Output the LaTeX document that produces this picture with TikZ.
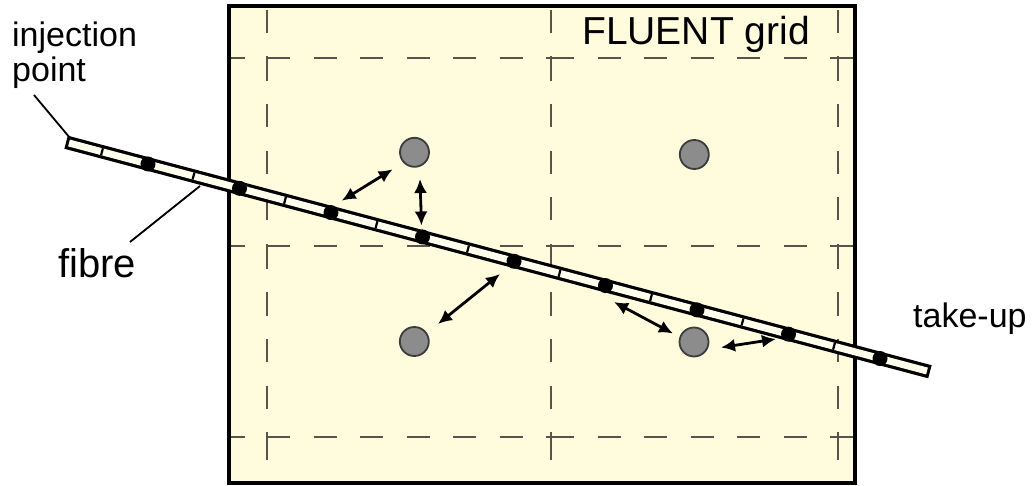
\documentclass[tikz,border=0pt]{standalone}
\usepackage{fontspec}
\setmainfont{Liberation Sans}
\usetikzlibrary{arrows.meta,calc}
\definecolor{boxfill}{RGB}{255,252,222}
\definecolor{fibrefill}{RGB}{255,255,238}
\definecolor{gridgray}{RGB}{85,85,75}
\definecolor{partfill}{RGB}{140,140,140}
\definecolor{partdraw}{RGB}{60,60,60}
\begin{document}
\begin{tikzpicture}[x=1pt,y=-1pt,
  gridline/.style={draw=gridgray,line width=2.2pt,dash pattern=on 23pt off 23.5pt},
  boxline/.style={draw=black,line width=3.2pt},
  fibreout/.style={draw=black,line width=13.5pt},
  fibrein/.style={draw=fibrefill,line width=7pt},
  tick/.style={draw=black,line width=2.2pt},
  fdot/.style={circle,fill=black,inner sep=0pt,minimum size=15pt},
  particle/.style={circle,fill=partfill,draw=partdraw,line width=1.8pt,inner sep=0pt,minimum size=29pt},
  arr/.style={draw=black,line width=2.8pt,{Latex[length=14pt,width=13pt]}-{Latex[length=14pt,width=13pt]}},
  leader/.style={draw=black,line width=1.8pt},
  lbl/.style={anchor=base west,inner sep=0pt,text=black}
]
\useasboundingbox (0,0) rectangle (1033,486);
% box
\fill[boxfill] (229,6) rectangle (855,483);
\begin{scope}
\clip (229,6) rectangle (855,483);
\foreach \x in {267,551,838}{
  \draw[gridline] (\x,10) -- (\x,58);
  \draw[gridline] (\x,58) -- (\x,246);
  \draw[gridline] (\x,246) -- (\x,437);
  \draw[gridline] (\x,437) -- (\x,490);
}
\foreach \y in {58,246,437}{
  \draw[gridline] (222,\y) -- (267,\y);
  \draw[gridline] (267,\y) -- (551,\y);
  \draw[gridline] (551,\y) -- (838,\y);
  \draw[gridline] (838,\y) -- (860,\y);
}
\end{scope}
\draw[boxline] (229,6) rectangle (855,483);
% particles
\node[particle] (c1) at (414.5,152.3) {};
\node[particle] (c2) at (694.3,154.5) {};
\node[particle] (c3) at (414.3,341.5) {};
\node[particle] (c4) at (694,342) {};
% fibre
\coordinate (fa) at (69,143);
\coordinate (fb) at (927,371);
\draw[fibreout] ($(fa)!-3pt!(fb)$) -- ($(fb)!-3pt!(fa)$);
\draw[fibrein] (fa) -- (fb);
\foreach \px in {102,193.5,285,376.5,468,559.5,651,742.5,834}{
  \pgfmathsetmacro\tt{(\px-69)/858}
  \coordinate (tk) at ($(fa)!\tt!(fb)$);
  \draw[tick] ($(tk)!3.6pt!90:(fb)$) -- ($(tk)!3.6pt!-90:(fb)$);
}
\foreach \px [count=\i] in {148,239.5,331,422.5,514,605.5,697,788.5,880}{
  \pgfmathsetmacro\tt{(\px-69)/858}
  \node[fdot] (d\i) at ($(fa)!\tt!(fb)$) {};
}
% arrows
\coordinate (a1s) at (341.7,200.7); \coordinate (a1e) at (392.7,169.3);
\coordinate (a2s) at (420,179);     \coordinate (a2e) at (421.5,225.5);
\coordinate (a3s) at (438,324);     \coordinate (a3e) at (500,274);
\coordinate (a4s) at (614,302);     \coordinate (a4e) at (673,333.5);
\coordinate (a5s) at (721,347.5);   \coordinate (a5e) at (776,339);
\draw[arr] (a1s) -- (a1e);
\draw[arr] (a2s) -- (a2e);
\draw[arr] (a3s) -- (a3e);
\draw[arr] (a4s) -- (a4e);
\draw[arr] (a5s) -- (a5e);
% labels
\node[lbl,font=\fontsize{34}{40}\selectfont] (inj1) at (12,47) {injection};
\node[lbl,font=\fontsize{34}{40}\selectfont] (inj2) at (12,82) {point};
\node[lbl,font=\fontsize{40}{46}\selectfont] (fib) at (58,277) {fibre};
\node[lbl,font=\fontsize{34}{40}\selectfont] (tak) at (913,327) {take-up};
\node[lbl,font=\fontsize{39}{45}\selectfont] (flu) at (582,45) {FLUENT grid};
% leaders
\coordinate (l1s) at (34,95);  \coordinate (l1e) at (70,138);
\coordinate (l2s) at (130,242); \coordinate (l2e) at (200,186);
\draw[leader] (l1s) -- (l1e);
\draw[leader] (l2s) -- (l2e);
\end{tikzpicture}
\end{document}
